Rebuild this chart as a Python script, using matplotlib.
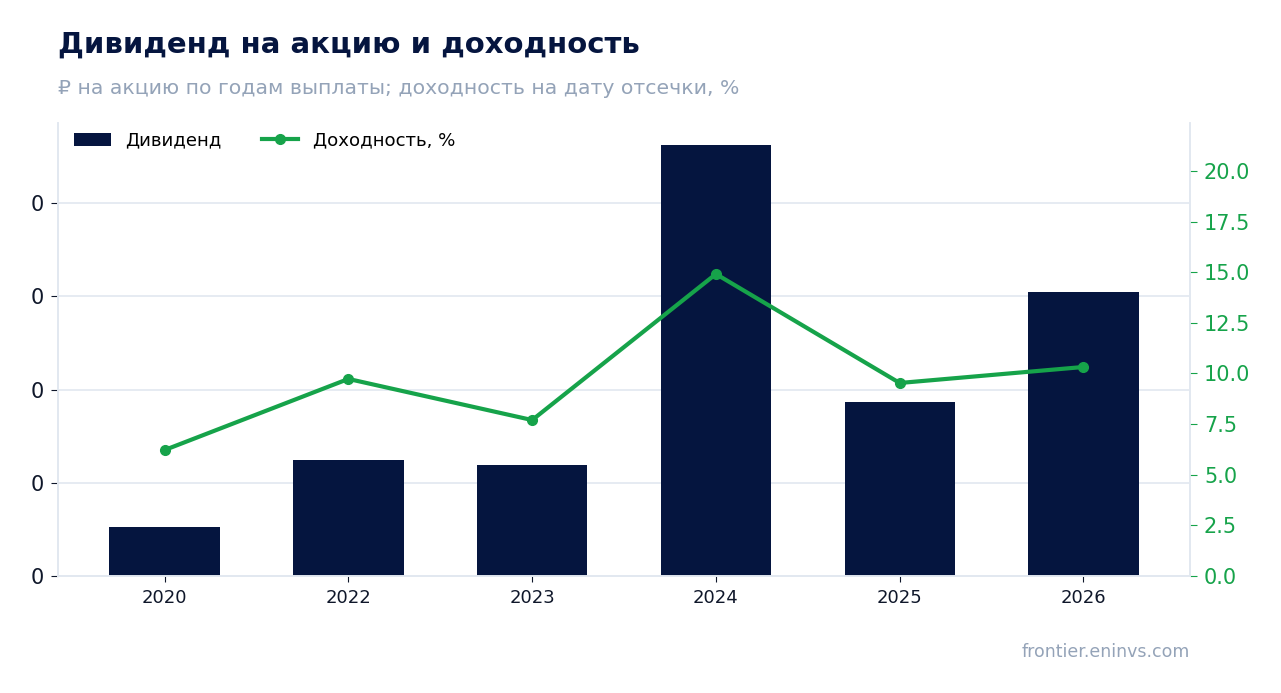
import matplotlib
matplotlib.use("Agg")
import matplotlib.pyplot as plt
from matplotlib.ticker import FuncFormatter, MultipleLocator

years = ["2020", "2022", "2023", "2024", "2025", "2026"]
dividend = [53, 125, 119, 463, 187, 305]
yield_pct = [6.22, 9.73, 7.70, 14.91, 9.53, 10.32]

NAVY = "#05153F"
GREEN = "#16A34A"
GRAY = "#94A3B8"
GRID = "#E2E8F0"
TXT = "#0f172a"

fig = plt.figure(figsize=(12.81, 6.93), dpi=100)
ax = fig.add_axes([0.0453, 0.1688, 0.8837, 0.6537])
x = range(len(years))
bars = ax.bar(x, dividend, width=0.6, color=NAVY, label="Дивиденд", zorder=2)
ax.set_xticks(list(x))
ax.set_xticklabels(years, fontsize=13, color=TXT)
ax.yaxis.set_major_locator(MultipleLocator(100))
ax.yaxis.set_major_formatter(FuncFormatter(lambda v, p: f"{v/1000:.0f}"))
ax.tick_params(axis="y", labelsize=15, colors=TXT, length=5, pad=5)
ax.tick_params(axis="x", colors=TXT, length=4, pad=5)
ax.grid(axis="y", color=GRID, lw=1.2, zorder=0)
ax.set_axisbelow(True)
ax.spines["top"].set_visible(False)
for s in ["left", "right", "bottom"]:
    ax.spines[s].set_color(GRID)
    ax.spines[s].set_linewidth(1.2)

ax2 = ax.twinx()
line, = ax2.plot(list(x), yield_pct, color=GREEN, lw=3, marker="o", markersize=7,
                 label="Доходность, %", zorder=3)
ax2.set_ylim(0, max(yield_pct) * 1.5)
ax2.yaxis.set_major_locator(MultipleLocator(2.5))
ax2.yaxis.set_major_formatter(FuncFormatter(lambda v, p: f"{v:.1f}"))
ax2.tick_params(axis="y", labelsize=15, colors=GREEN, length=5, pad=5)
ax2.spines["top"].set_visible(False)
for s in ["left", "right", "bottom"]:
    ax2.spines[s].set_color(GRID)
    ax2.spines[s].set_linewidth(1.2)

ax2.legend([bars, line], ["Дивиденд", "Доходность, %"], loc="upper left", ncol=2,
           frameon=False, fontsize=13.1, bbox_to_anchor=(0.0, 1.017), handlelength=2.0,
           columnspacing=2.2)

fig.text(0.0453, 0.936, "Дивиденд на акцию и доходность", fontsize=21, fontweight="bold",
         color=NAVY, va="center", ha="left")
fig.text(0.0453, 0.873, "₽ на акцию по годам выплаты; доходность на дату отсечки, %",
         fontsize=14.65, color=GRAY, va="center", ha="left")
fig.text(0.929, 0.059, "frontier.eninvs.com", fontsize=12.5, color=GRAY,
         ha="right", va="center")

fig.savefig("out.png", dpi=100)
